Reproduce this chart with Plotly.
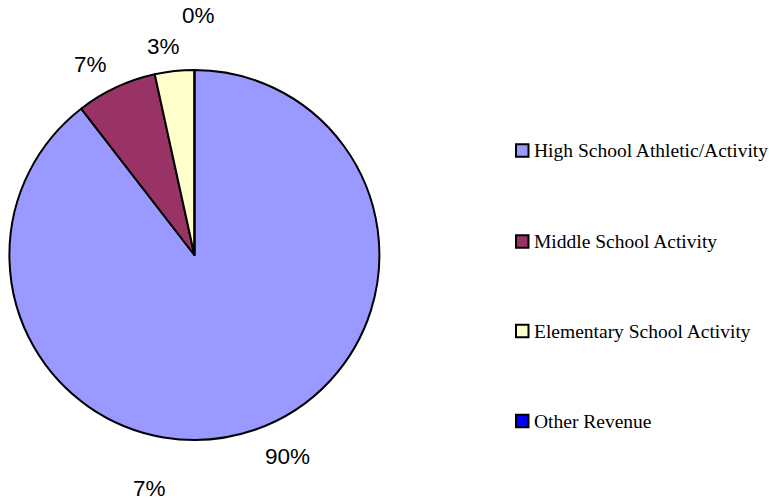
import plotly.graph_objects as go

# Revenue share by program
categories = [
    "High School Athletic/Activity",
    "Middle School Activity",
    "Elementary School Activity",
    "Other Revenue",
]
values = [89.52, 7.04, 3.44, 0.0]
colors = ["#9999FF", "#993366", "#FFFFCC", "#0000FF"]

W, H = 769, 503


def px(x):
    return x / W


def py(y):
    return 1 - y / H


total = sum(values)
pct = [f"{round(v / total * 100)}%" for v in values]

fig = go.Figure()
fig.add_trace(go.Pie(
    labels=categories,
    values=values,
    sort=False,
    direction="clockwise",
    rotation=0,
    marker=dict(colors=colors, line=dict(color="black", width=2)),
    textinfo="none",
    hoverinfo="label+percent",
    showlegend=False,
    domain=dict(x=[px(194.4 - 185), px(194.4 + 185)], y=[py(440), py(70)]),
))

# Slice percentage labels (HS, MS, ES, Other) plus a repeated MS label below the pie
label_font = dict(family="Liberation Sans", size=22.5, color="black")
label_pos = [(287.5, 456), (90, 64.5), (163.5, 46), (198, 15.5)]
annotations = []
for (x, y), t in zip(label_pos, pct):
    annotations.append(dict(x=px(x), y=py(y), xref="paper", yref="paper", text=t,
                            showarrow=False, xanchor="center", yanchor="middle",
                            font=label_font))
annotations.append(dict(x=px(149.5), y=py(488), xref="paper", yref="paper", text=pct[1],
                        showarrow=False, xanchor="center", yanchor="middle",
                        font=label_font))

# Legend drawn as swatches with text, evenly spaced down the right side
legend_font = dict(family="Liberation Serif", size=19.5, color="black")
legend_y = [150.5, 241.5, 331, 421]
shapes = []
for yc, name, c in zip(legend_y, categories, colors):
    shapes.append(dict(type="rect", xref="paper", yref="paper",
                       x0=px(516), x1=px(528.5), y0=py(yc + 6.2), y1=py(yc - 6.2),
                       fillcolor=c, line=dict(color="black", width=2)))
    annotations.append(dict(x=px(531.5), y=py(yc), xref="paper", yref="paper", text=name,
                            showarrow=False, xanchor="left", yanchor="middle",
                            font=legend_font))

fig.update_layout(
    width=W, height=H,
    margin=dict(l=0, r=0, t=0, b=0),
    paper_bgcolor="white",
    plot_bgcolor="white",
    annotations=annotations,
    shapes=shapes,
)

fig.write_html("out.html")
